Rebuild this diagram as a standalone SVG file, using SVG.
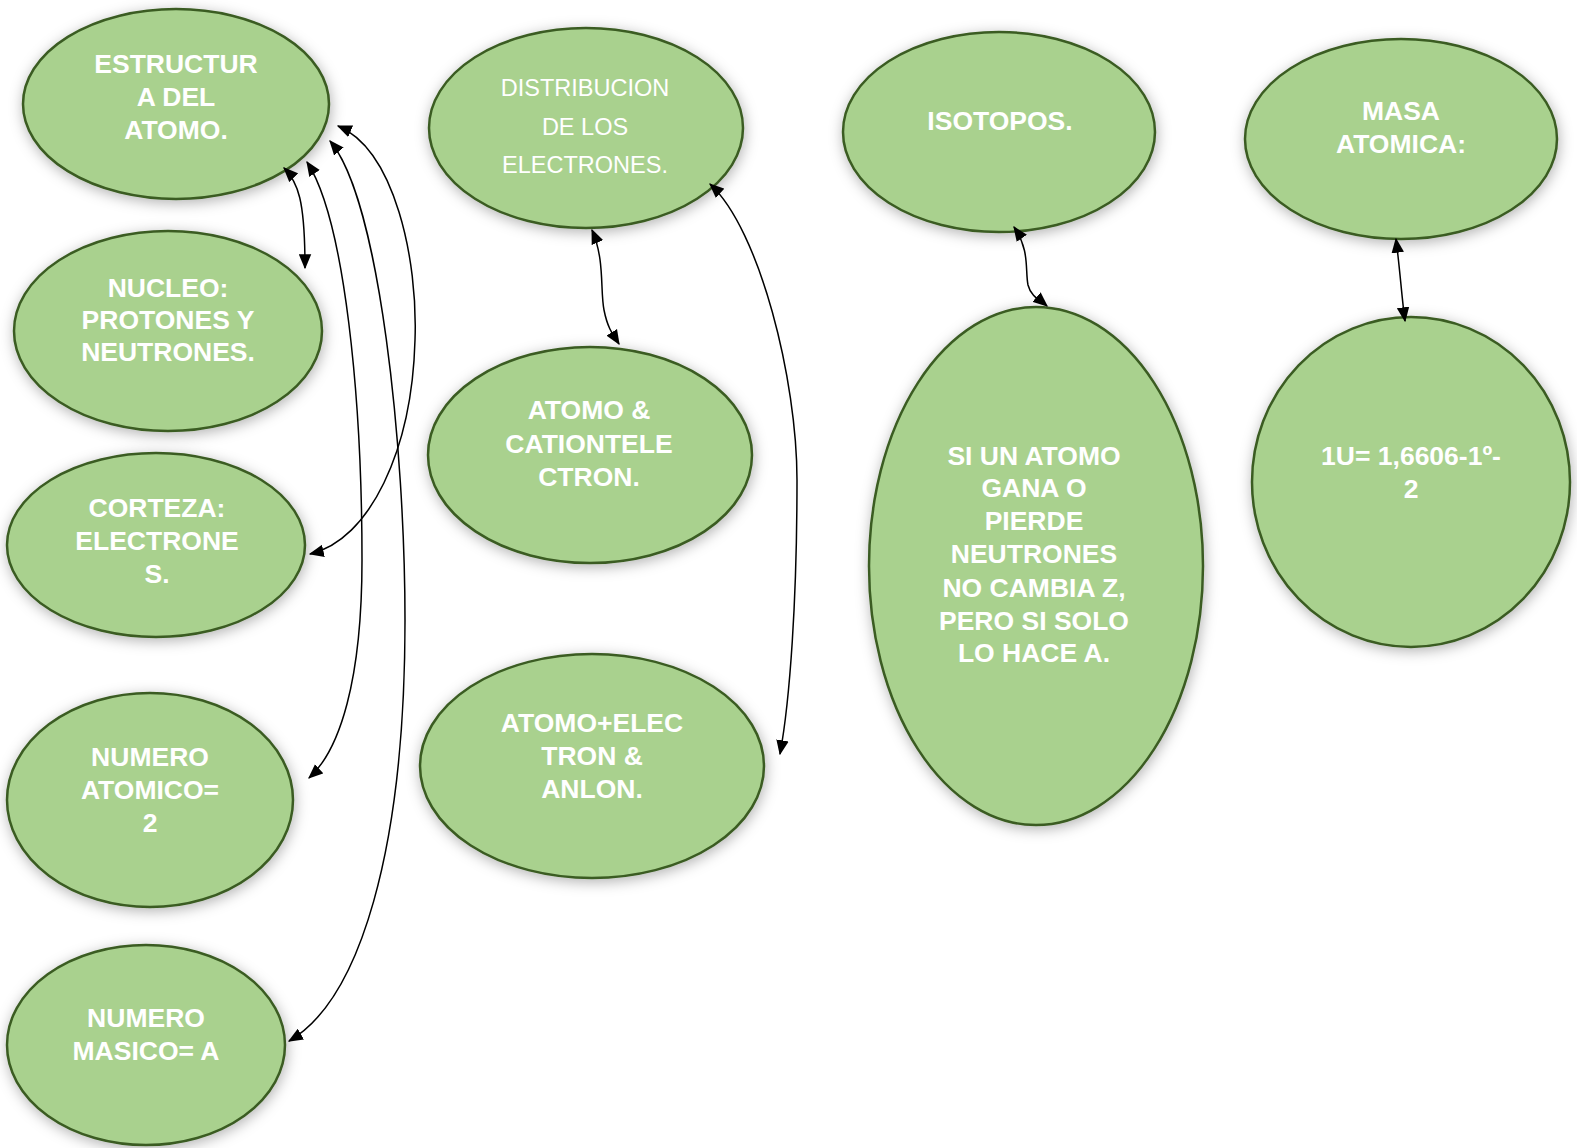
<svg xmlns="http://www.w3.org/2000/svg" width="1577" height="1148" viewBox="0 0 1577 1148">
<defs>
<filter id="sh" x="-20%" y="-20%" width="140%" height="140%">
<feDropShadow dx="1" dy="3" stdDeviation="7" flood-color="#000" flood-opacity="0.3"/>
</filter>
<marker id="ah" viewBox="0 0 12 10" refX="11" refY="5" markerWidth="15" markerHeight="13" markerUnits="userSpaceOnUse" orient="auto-start-reverse">
<path d="M0,0 L12,5 L0,10 z" fill="#000"/>
</marker>
</defs>
<style>
.n ellipse{fill:#A9D18E;stroke:#3A5C22;stroke-width:2.5;filter:url(#sh)}
.n text{fill:#fff;font-family:"Liberation Sans",Arial,sans-serif;font-weight:bold;font-size:26.5px;text-anchor:middle}
.n text.r{font-weight:normal;font-size:23.5px}
.c path{fill:none;stroke:#000;stroke-width:1.5;marker-start:url(#ah);marker-end:url(#ah)}
</style>
<rect width="1577" height="1148" fill="#fff"/>
<g class="n" id="estructura"><ellipse cx="176" cy="104" rx="153" ry="95"/>
<text x="176" y="73">ESTRUCTUR</text><text x="176" y="106">A DEL</text><text x="176" y="139">ATOMO.</text></g>
<g class="n" id="nucleo"><ellipse cx="168" cy="331" rx="154" ry="100"/>
<text x="168" y="297">NUCLEO:</text><text x="168" y="329">PROTONES Y</text><text x="168" y="361">NEUTRONES.</text></g>
<g class="n" id="corteza"><ellipse cx="156" cy="545" rx="149" ry="92"/>
<text x="157" y="517">CORTEZA:</text><text x="157" y="550">ELECTRONE</text><text x="157" y="583">S.</text></g>
<g class="n" id="numatomico"><ellipse cx="150" cy="800" rx="143" ry="107"/>
<text x="150" y="766">NUMERO</text><text x="150" y="799">ATOMICO=</text><text x="150" y="832">2</text></g>
<g class="n" id="nummasico"><ellipse cx="146" cy="1045" rx="139" ry="100"/>
<text x="146" y="1027">NUMERO</text><text x="146" y="1060">MASICO= A</text></g>
<g class="n" id="distribucion"><ellipse cx="586" cy="128" rx="157" ry="100"/>
<text class="r" x="585" y="96">DISTRIBUCION</text><text class="r" x="585" y="135">DE LOS</text><text class="r" x="585" y="173">ELECTRONES.</text></g>
<g class="n" id="cation"><ellipse cx="590" cy="455" rx="162" ry="108"/>
<text x="589" y="419">ATOMO &amp;</text><text x="589" y="453">CATIONTELE</text><text x="589" y="486">CTRON.</text></g>
<g class="n" id="anion"><ellipse cx="592" cy="766" rx="172" ry="112"/>
<text x="592" y="732">ATOMO+ELEC</text><text x="592" y="765">TRON &amp;</text><text x="592" y="798">ANLON.</text></g>
<g class="n" id="isotopos"><ellipse cx="999" cy="132" rx="156" ry="100"/>
<text x="1000" y="130">ISOTOPOS.</text></g>
<g class="n" id="siun"><ellipse cx="1036" cy="566" rx="167" ry="259"/>
<text x="1034" y="465">SI UN ATOMO</text><text x="1034" y="497">GANA O</text><text x="1034" y="530">PIERDE</text><text x="1034" y="563">NEUTRONES</text><text x="1034" y="597">NO CAMBIA Z,</text><text x="1034" y="630">PERO SI SOLO</text><text x="1034" y="662">LO HACE A.</text></g>
<g class="n" id="masa"><ellipse cx="1401" cy="139" rx="156" ry="100"/>
<text x="1401" y="120">MASA</text><text x="1401" y="153">ATOMICA:</text></g>
<g class="n" id="uma"><ellipse cx="1411" cy="482" rx="159" ry="165"/>
<text x="1411" y="465">1U= 1,6606-1º-</text><text x="1411" y="498">2</text></g>
<g class="c" id="connectors">
<path d="M284,168 C298,182 305,200 305,268"/>
<path d="M307,162 C345,220 362,400 362,560 C362,680 340,750 309,778"/>
<path d="M330,141 C380,200 405,450 405,620 C405,850 360,1000 289,1041"/>
<path d="M338,126 C395,150 418,260 415,340 C412,450 370,540 310,554"/>
<path d="M592,230 C605,260 600,290 604,310 C608,330 614,336 619,344"/>
<path d="M710,184 C760,230 797,380 797,480 C797,600 790,700 780,754"/>
<path d="M1014,227 C1030,250 1025,270 1028,285 C1031,297 1040,300 1047,306"/>
<path d="M1396,239 C1400,270 1402,300 1405,321"/>
</g>
</svg>
